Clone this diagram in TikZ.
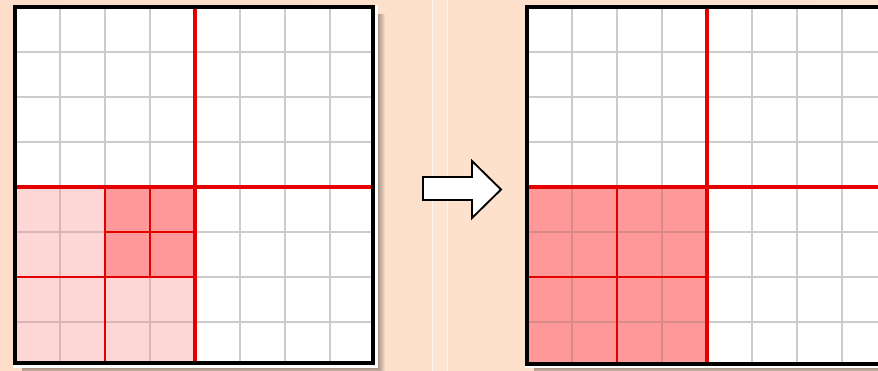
\documentclass[tikz,border=0pt]{standalone}
\begin{document}
\begin{tikzpicture}[x=0.75pt,y=-0.75pt,
  gridline/.style={draw=black!20, line width=1.5pt},
  darkline/.style={draw=red!45!black!55!white, line width=1.5pt},
  lightline/.style={draw=red!20!black!30!white, line width=1.5pt},
  redmajor/.style={draw=red!90!black, line width=2.3pt},
  redminor/.style={draw=red!90!black, line width=1.6pt},
  frame/.style={draw=black, line width=2.4pt},
  darkcell/.style={fill=red!40},
  lightcell/.style={fill=red!16},
  panel/.style={fill=white},
  blockarrow/.style={draw=black, line width=1.4pt, fill=white, line join=miter}]
\useasboundingbox (0,0) rectangle (878,371);
\clip (0,0) rectangle (878,371);
% background
\definecolor{bgL}{HTML}{FCDDC9}
\definecolor{bgM}{HTML}{FEE7D3}
\definecolor{bgR}{HTML}{FDE4D0}
\definecolor{dkln}{HTML}{D88A88}
\definecolor{ltln}{HTML}{D8B6B6}
\shade[left color=bgL, middle color=bgM, right color=bgR] (0,0) rectangle (878,371);
\fill[white, opacity=0.15] (432,0) rectangle (447,371);
\draw[white, opacity=0.7, line width=0.75pt] (432,0) -- (432,371);
\draw[white, opacity=0.7, line width=0.75pt] (447,0) -- (447,371);
% shadows
\foreach \d in {1,...,8} {
  \fill[black, opacity=0.05] (22,14) rectangle (377+\d,367+\d);
  \fill[black, opacity=0.05] (534,14) rectangle (890,367+\d);
}
\fill[panel] (13,5) rectangle (378,368);
\fill[panel] (525,5) rectangle (890,368);
% ---------- left grid ----------
\fill[lightcell] (15,187) rectangle (195,363);
\fill[darkcell] (105,187) rectangle (195,277);
\foreach \x in {60,105,150,195,240,285,330} \draw[gridline] (\x,7) -- (\x,187);
\foreach \x in {240,285,330} \draw[gridline] (\x,187) -- (\x,363);
\foreach \y in {52,97,142} \draw[gridline] (15,\y) -- (373,\y);
\foreach \y in {232,277,322} \draw[gridline] (195,\y) -- (373,\y);
\draw[draw=ltln, line width=1.5pt] (60,187) -- (60,363);
\draw[draw=ltln, line width=1.5pt] (150,277) -- (150,363);
\draw[draw=ltln, line width=1.5pt] (15,232) -- (105,232);
\draw[draw=ltln, line width=1.5pt] (15,322) -- (195,322);
\draw[redmajor] (195,7) -- (195,363);
\draw[redmajor] (15,187) -- (373,187);
\draw[redminor] (105,187) -- (105,363);
\draw[redminor] (15,277) -- (195,277);
\draw[redminor] (150,187) -- (150,277);
\draw[redminor] (105,232) -- (195,232);
\draw[frame] (15,7) rectangle (373,363);
% ---------- right grid ----------
\fill[darkcell] (527,187) rectangle (707,364);
\foreach \x in {572,617,662,707,752,797,842} \draw[gridline] (\x,7) -- (\x,187);
\foreach \x in {752,797,842} \draw[gridline] (\x,187) -- (\x,364);
\foreach \y in {52,97,142} \draw[gridline] (527,\y) -- (890,\y);
\foreach \y in {232,277,322} \draw[gridline] (707,\y) -- (890,\y);
\draw[draw=dkln, line width=1.5pt] (572,187) -- (572,364);
\draw[draw=dkln, line width=1.5pt] (662,187) -- (662,364);
\draw[draw=dkln, line width=1.5pt] (527,232) -- (707,232);
\draw[draw=dkln, line width=1.5pt] (527,322) -- (707,322);
\draw[redmajor] (707,7) -- (707,364);
\draw[redmajor] (527,187) -- (890,187);
\draw[redminor] (617,187) -- (617,364);
\draw[redminor] (527,277) -- (707,277);
\draw[frame] (527,7) rectangle (895,364);
% ---------- arrow ----------
\draw[blockarrow] (423,177) -- (472,177) -- (472,161) -- (501,189.5) -- (472,218) -- (472,200) -- (423,200) -- cycle;
\end{tikzpicture}
\end{document}
